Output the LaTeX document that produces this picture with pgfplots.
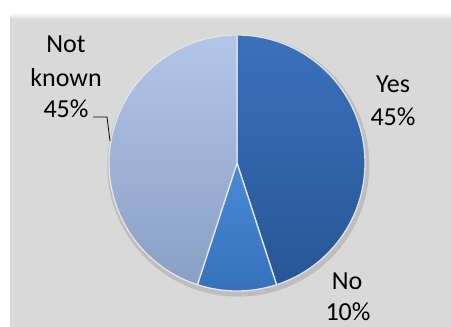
\documentclass[border=0pt]{standalone}
\usepackage{pgfplots}
\pgfplotsset{compat=1.18}
\usepackage{pgfplotstable}
\usepackage{fontspec}
\setmainfont{Carlito}
\definecolor{panel}{HTML}{D9D9D9}
\definecolor{yesTop}{HTML}{3A71BB}
\definecolor{yesBot}{HTML}{285696}
\definecolor{noTop}{HTML}{4A8BD8}
\definecolor{noBot}{HTML}{3670BB}
\definecolor{nkTop}{HTML}{B3C6E8}
\definecolor{nkBot}{HTML}{8A9FC5}
\definecolor{edge}{HTML}{E4E4E4}
\pgfplotstableread{
label value
Yes 45
No 10
NotKnown 45
}\piedata
\begin{document}%
\pgfplotstablegetelem{0}{value}\of\piedata\edef\vYes{\pgfplotsretval}%
\pgfplotstablegetelem{1}{value}\of\piedata\edef\vNo{\pgfplotsretval}%
\pgfplotstablegetelem{2}{value}\of\piedata\edef\vNK{\pgfplotsretval}%
\pgfmathsetmacro\total{\vYes+\vNo+\vNK}%
\pgfmathsetmacro\aA{90-360*\vYes/\total}%
\pgfmathsetmacro\aB{\aA-360*\vNo/\total}%
\pgfmathsetmacro\aC{\aB-360*\vNK/\total}%
\begin{tikzpicture}[every node/.style={font=\fontsize{26bp}{31bp}\selectfont, inner sep=0pt}]
\useasboundingbox (0,0) rectangle (451bp,327bp);
\fill[white] (0,0) rectangle (451bp,327bp);
\fill[panel] (10bp,0) rectangle (451bp,314bp);
\shade[top color=white, bottom color=panel] (10bp,308bp) rectangle (451bp,314bp);
\begin{axis}[at={(0,0)}, anchor=south west, scale only axis,
  width=451bp, height=327bp,
  xmin=-1.8516, xmax=1.6719, ymin=-1.28125, ymax=1.2734,
  hide axis, clip=false]
\addplot[draw=none, forget plot] coordinates {(0,0)};
\fill[black, opacity=0.12] (axis cs:0.01,-0.02) circle[radius=131bp];
\shadedraw[top color=yesTop, bottom color=yesBot, draw=edge, line width=1.3bp, line join=round]
  (axis cs:0,0) -- ([shift={(90:128bp)}]axis cs:0,0) arc[start angle=90, end angle=\aA, radius=128bp] -- cycle;
\shadedraw[top color=noTop, bottom color=noBot, draw=edge, line width=1.3bp, line join=round]
  (axis cs:0,0) -- ([shift={(\aA:128bp)}]axis cs:0,0) arc[start angle=\aA, end angle=\aB, radius=128bp] -- cycle;
\shadedraw[top color=nkTop, bottom color=nkBot, draw=edge, line width=1.3bp, line join=round]
  (axis cs:0,0) -- ([shift={(\aB:128bp)}]axis cs:0,0) arc[start angle=\aB, end angle=\aC, radius=128bp] -- cycle;
\end{axis}
\node[anchor=base] at (393bp,234bp) {Yes};
\node[anchor=base] at (393bp,201bp) {45\%};
\node[anchor=base] at (347bp,38bp) {No};
\node[anchor=base] at (348bp,7bp) {10\%};
\node[anchor=base] at (66bp,274bp) {Not};
\node[anchor=base] at (66bp,240bp) {known};
\node[anchor=base] at (66bp,209bp) {45\%};
\draw[black, line width=0.8bp] (93bp,210bp) -- (107bp,210bp) -- (110bp,186bp);
\end{tikzpicture}%
\end{document}
